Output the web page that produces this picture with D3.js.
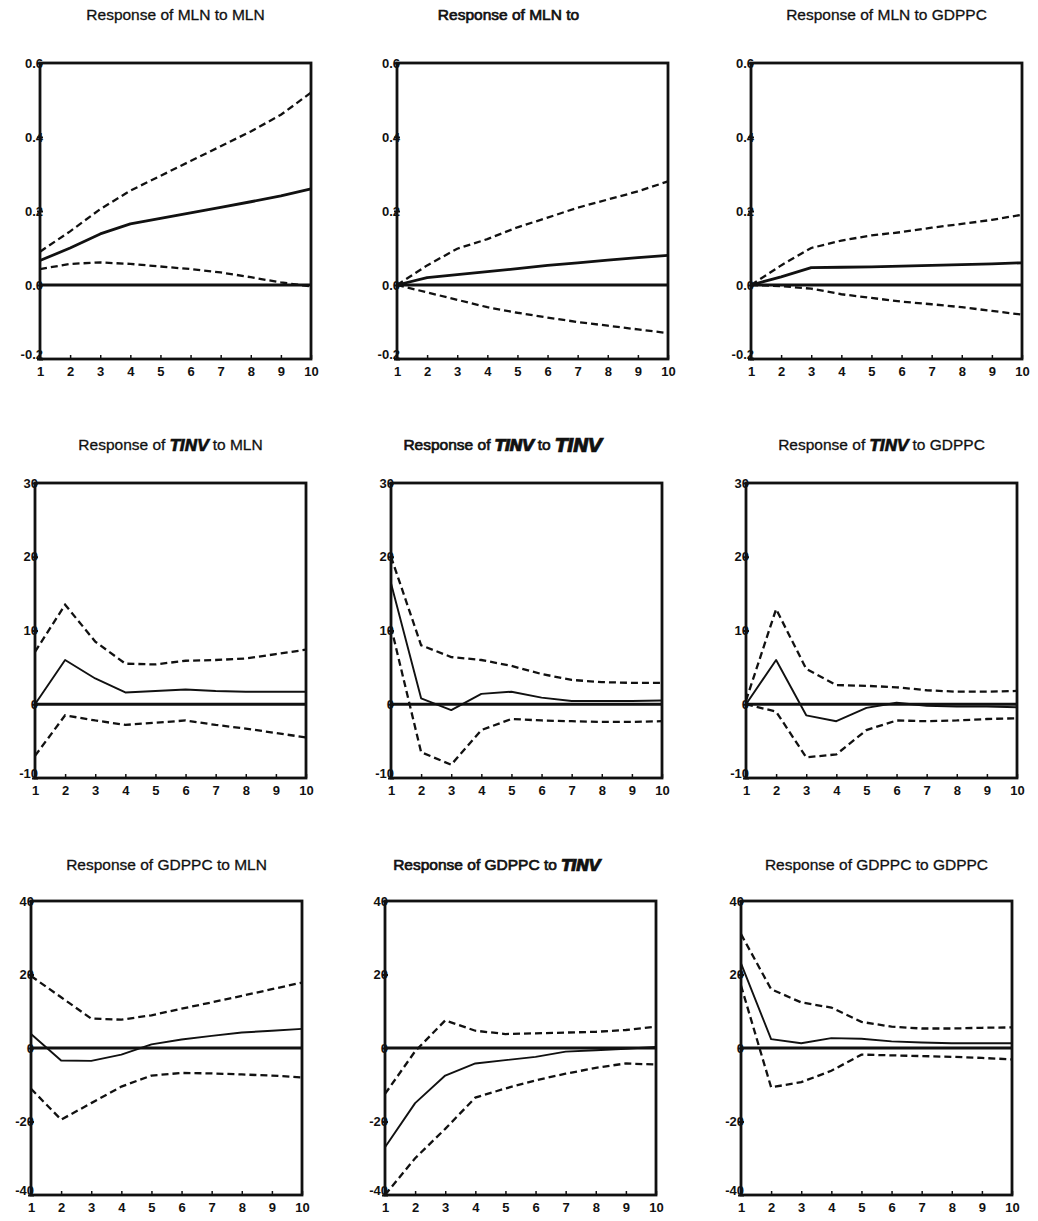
<!DOCTYPE html>
<html>
<head>
<meta charset="utf-8">
<script src="https://cdn.jsdelivr.net/npm/d3@7"></script>
<style>
  html, body { margin: 0; padding: 0; background: #fff; }
  svg { display: block; }
  .title { font-family: "Liberation Sans", Arial, sans-serif; font-size: 15.5px; fill: #111; stroke: #111; stroke-width: 0.3px; }
  .title.mid { stroke-width: 0.7px; }
  .tinv { font-family: "DejaVu Sans", sans-serif; font-weight: bold; font-style: italic; font-size: 16px; letter-spacing: -1px; }
  .tinv.big { font-size: 19px; }
  .tick text { font-family: "Liberation Sans", Arial, sans-serif; font-weight: bold; font-size: 13px; fill: #111; }
</style>
</head>
<body>
<svg id="chart" width="1038" height="1221"></svg>
<script>
// Forecast horizon (periods)
const periods = [1, 2, 3, 4, 5, 6, 7, 8, 9, 10];

// Y-axis tick values and labels for each row of panels
const row1Ticks = [0.6, 0.4, 0.2, 0.0, -0.2];
const row1Labels = ["0.6", "0.4", "0.2", "0.0", "-0.2"];
const row2Ticks = [30, 20, 10, 0, -10];
const row2Labels = ["30", "20", "10", "0", "-10"];
const row3Ticks = [40, 20, 0, -20, -40];
const row3Labels = ["40", "20", "0", "-20", "-40"];

// Panel titles: [prefix, responding variable, " to ", shock variable]
const titles = [
  ["Response of ", "MLN", " to ", "MLN"],
  ["Response of ", "MLN", " to ", ""],
  ["Response of ", "MLN", " to ", "GDPPC"],
  ["Response of ", "TINV", " to ", "MLN"],
  ["Response of ", "TINV", " to ", "TINV"],
  ["Response of ", "TINV", " to ", "GDPPC"],
  ["Response of ", "GDPPC", " to ", "MLN"],
  ["Response of ", "GDPPC", " to ", "TINV"],
  ["Response of ", "GDPPC", " to ", "GDPPC"]
];

// Impulse responses (solid) and ±2 S.E. bands (dashed)
const mlnMln      = [0.066, 0.10, 0.138, 0.165, 0.18, 0.195, 0.21, 0.225, 0.241, 0.26];
const mlnMlnHi    = [0.09, 0.145, 0.205, 0.255, 0.295, 0.335, 0.375, 0.415, 0.46, 0.52];
const mlnMlnLo    = [0.043, 0.057, 0.061, 0.057, 0.05, 0.043, 0.034, 0.021, 0.007, -0.004];

const mlnTinv     = [0.0, 0.02, 0.028, 0.036, 0.044, 0.053, 0.06, 0.067, 0.074, 0.08];
const mlnTinvHi   = [0.0, 0.053, 0.098, 0.124, 0.156, 0.182, 0.209, 0.231, 0.253, 0.28];
const mlnTinvLo   = [0.0, -0.02, -0.04, -0.06, -0.075, -0.088, -0.10, -0.11, -0.12, -0.13];

const mlnGdppc    = [0.0, 0.022, 0.047, 0.048, 0.049, 0.051, 0.053, 0.055, 0.057, 0.06];
const mlnGdppcHi  = [0.0, 0.053, 0.10, 0.12, 0.134, 0.143, 0.155, 0.165, 0.176, 0.19];
const mlnGdppcLo  = [0.0, -0.003, -0.01, -0.025, -0.035, -0.045, -0.052, -0.06, -0.07, -0.08];

const tinvMln     = [0.0, 6.0, 3.5, 1.6, 1.8, 2.0, 1.8, 1.7, 1.7, 1.7];
const tinvMlnHi   = [7.1, 13.5, 8.5, 5.5, 5.4, 5.9, 6.0, 6.2, 6.8, 7.4];
const tinvMlnLo   = [-7.0, -1.5, -2.2, -2.8, -2.5, -2.2, -2.8, -3.3, -3.9, -4.5];

const tinvTinv    = [16.4, 0.8, -0.8, 1.4, 1.7, 0.9, 0.45, 0.45, 0.45, 0.5];
const tinvTinvHi  = [20.0, 8.0, 6.4, 6.0, 5.2, 4.1, 3.3, 3.0, 2.9, 2.9];
const tinvTinvLo  = [10.5, -6.5, -8.2, -3.5, -2.0, -2.2, -2.3, -2.4, -2.4, -2.3];

const tinvGdppc   = [0.0, 6.0, -1.5, -2.3, -0.5, 0.2, -0.2, -0.3, -0.3, -0.4];
const tinvGdppcHi = [0.5, 12.9, 4.8, 2.6, 2.5, 2.3, 1.9, 1.7, 1.7, 1.8];
const tinvGdppcLo = [0.0, -1.0, -7.2, -6.8, -3.5, -2.2, -2.3, -2.2, -2.0, -1.9];

const gdpMln      = [3.8, -3.4, -3.5, -1.8, 1.0, 2.3, 3.3, 4.2, 4.7, 5.2];
const gdpMlnHi    = [19.6, 13.8, 8.0, 7.7, 8.9, 10.7, 12.4, 14.2, 16.0, 17.8];
const gdpMlnLo    = [-11.1, -19.5, -15.0, -10.5, -7.5, -6.8, -6.9, -7.2, -7.5, -8.0];

const gdpTinv     = [-27.0, -15.0, -7.5, -4.2, -3.3, -2.4, -1.0, -0.6, -0.2, 0.3];
const gdpTinvHi   = [-12.5, -0.9, 7.5, 4.7, 3.8, 4.0, 4.2, 4.4, 4.9, 5.8];
const gdpTinvLo   = [-40.0, -30.0, -22.0, -13.5, -11.0, -8.8, -7.0, -5.4, -4.2, -4.5];

const gdpGdppc    = [23.0, 2.4, 1.3, 2.7, 2.5, 1.8, 1.5, 1.3, 1.3, 1.3];
const gdpGdppcHi  = [31.0, 16.0, 12.4, 11.0, 7.1, 5.8, 5.3, 5.3, 5.5, 5.6];
const gdpGdppcLo  = [17.0, -10.7, -9.3, -6.2, -1.8, -2.0, -2.2, -2.4, -2.7, -3.1];

const responses = [mlnMln, mlnTinv, mlnGdppc, tinvMln, tinvTinv, tinvGdppc, gdpMln, gdpTinv, gdpGdppc];
const upperBands = [mlnMlnHi, mlnTinvHi, mlnGdppcHi, tinvMlnHi, tinvTinvHi, tinvGdppcHi, gdpMlnHi, gdpTinvHi, gdpGdppcHi];
const lowerBands = [mlnMlnLo, mlnTinvLo, mlnGdppcLo, tinvMlnLo, tinvTinvLo, tinvGdppcLo, gdpMlnLo, gdpTinvLo, gdpGdppcLo];
const rowTicks = [row1Ticks, row2Ticks, row3Ticks];
const rowLabels = [row1Labels, row2Labels, row3Labels];

// Panel grid geometry (each row sits slightly further left than the one above)
const colLeft = [[40, 397, 751], [35, 391, 746], [31, 385, 741]];
const panelW = 271;
const rowTop = [63, 483, 901];
const rowBottom = [359, 778, 1195];
const titleY = [16, 446, 866];
const titleShift = [0, -24, 0];
const solidWidth = [2.8, 1.9, 1.9];

const svg = d3.select("#chart");

titles.forEach((t, i) => {
  const r = Math.floor(i / 3), c = i % 3;
  const x0 = colLeft[r][c], x1 = x0 + panelW;
  const y0 = rowTop[r], y1 = rowBottom[r];
  const ticks = rowTicks[r];
  const yMin = d3.min(ticks);

  const x = d3.scaleLinear().domain([1, 10]).range([x0, x1]);
  const y = d3.scaleLinear().domain([yMin, d3.max(ticks)]).range([y1, y0]);

  const g = svg.append("g");

  // title; TINV is set in a heavier slanted face
  const title = g.append("text").attr("class", c === 1 ? "title mid" : "title")
    .attr("x", (x0 + x1) / 2 + titleShift[c]).attr("y", titleY[r])
    .attr("text-anchor", "middle").attr("dominant-baseline", "middle");
  t.forEach((part, k) => {
    const span = title.append("tspan").text(part);
    if (part === "TINV") span.attr("class", k === 3 && r === 1 ? "tinv big" : "tinv");
  });

  // frame
  g.append("rect")
    .attr("x", x0).attr("y", y0).attr("width", panelW).attr("height", y1 - y0)
    .attr("fill", "none").attr("stroke", "#111").attr("stroke-width", 2.8);

  // left axis: labels sit right on the frame
  const labels = rowLabels[r];
  const yAxis = d3.axisLeft(y).tickValues(ticks)
    .tickFormat((d, k) => labels[k]).tickSize(3).tickPadding(-6);
  const ya = g.append("g").attr("transform", `translate(${x0},0)`).call(yAxis);
  ya.select(".domain").remove();
  ya.selectAll(".tick line").attr("stroke", "#111").attr("stroke-width", 2).attr("x2", 3).attr("x1", -3);
  // lift the lowest label clear of the period numbers below it
  ya.selectAll(".tick").filter(d => d === yMin).select("text").attr("y", -5);

  // bottom axis
  const xAxis = d3.axisBottom(x).tickValues(periods).tickFormat(d3.format("d")).tickSize(-4).tickPadding(8);
  const xa = g.append("g").attr("transform", `translate(0,${y1})`).call(xAxis);
  xa.select(".domain").remove();
  xa.selectAll(".tick line").attr("stroke", "#111").attr("stroke-width", 1.5);

  // zero line
  g.append("line")
    .attr("x1", x0).attr("x2", x1).attr("y1", y(0)).attr("y2", y(0))
    .attr("stroke", "#111").attr("stroke-width", 2.8);

  const line = d3.line().x((d, k) => x(periods[k])).y(d => y(d));

  [upperBands[i], lowerBands[i]].forEach(band => {
    g.append("path").datum(band).attr("d", line)
      .attr("fill", "none").attr("stroke", "#111").attr("stroke-width", 2.3)
      .attr("stroke-dasharray", "7,4");
  });

  g.append("path").datum(responses[i]).attr("d", line)
    .attr("fill", "none").attr("stroke", "#111").attr("stroke-width", solidWidth[r])
    .attr("stroke-linejoin", "round");
});
</script>
</body>
</html>
